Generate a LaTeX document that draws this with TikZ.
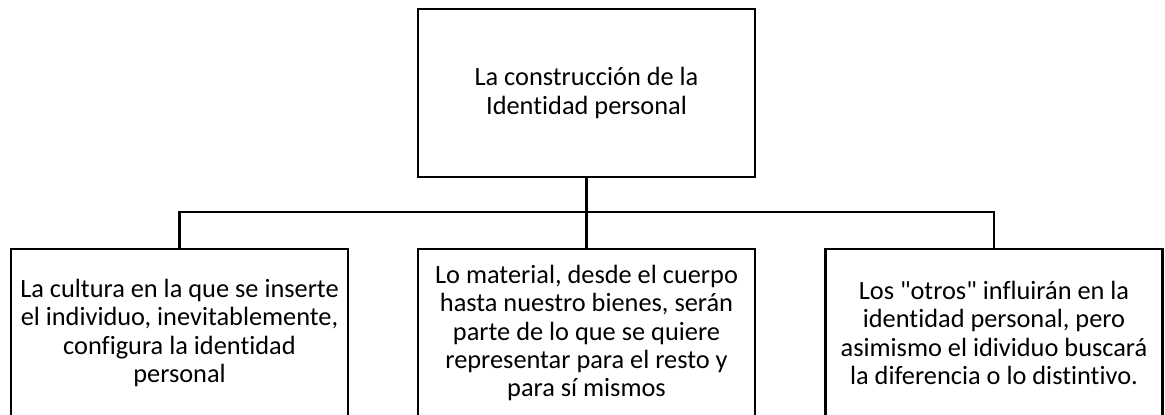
\documentclass[tikz,border=0pt]{standalone}
\usepackage{fontspec}
\newfontfamily\cuadrofont{Carlito}[Ligatures=NoCommon]
\usepackage{tikz}

\begin{document}
\begin{tikzpicture}[x=0.02cm,y=-0.02cm,
	box/.style={shape=rectangle,draw=black,line width=1.4pt,minimum width=6.74cm,minimum height=3.36cm,
		align=center,font=\cuadrofont\fontsize{15}{16.1}\selectfont}]
	\clip (0,0) rectangle (1165,414);

	\node[box] (titulo)   at (586.5, 93)  {La construcción de la\\Identidad personal};
	\node[box] (cultura)  at (179.5, 333) {La cultura en la que se inserte\\el individuo, inevitablemente,\\configura la identidad\\personal};
	\node[box] (material) at (586.5, 333) {Lo material, desde el cuerpo\\hasta nuestro bienes, serán\\parte de lo que se quiere\\representar para el resto y\\para sí mismos};
	\node[box] (otros)    at (994, 333)   {Los "otros" influirán en la\\identidad personal, pero\\asimismo el idividuo buscará\\la diferencia o lo distintivo.};

	\coordinate (barra) at (0, 212);

	\draw[line width=1.4pt] (titulo.south) -- (material.north);
	\draw[line width=1.4pt] (cultura.north) -- (cultura.north |- barra) -- (otros.north |- barra) -- (otros.north);
\end{tikzpicture}
\end{document}
